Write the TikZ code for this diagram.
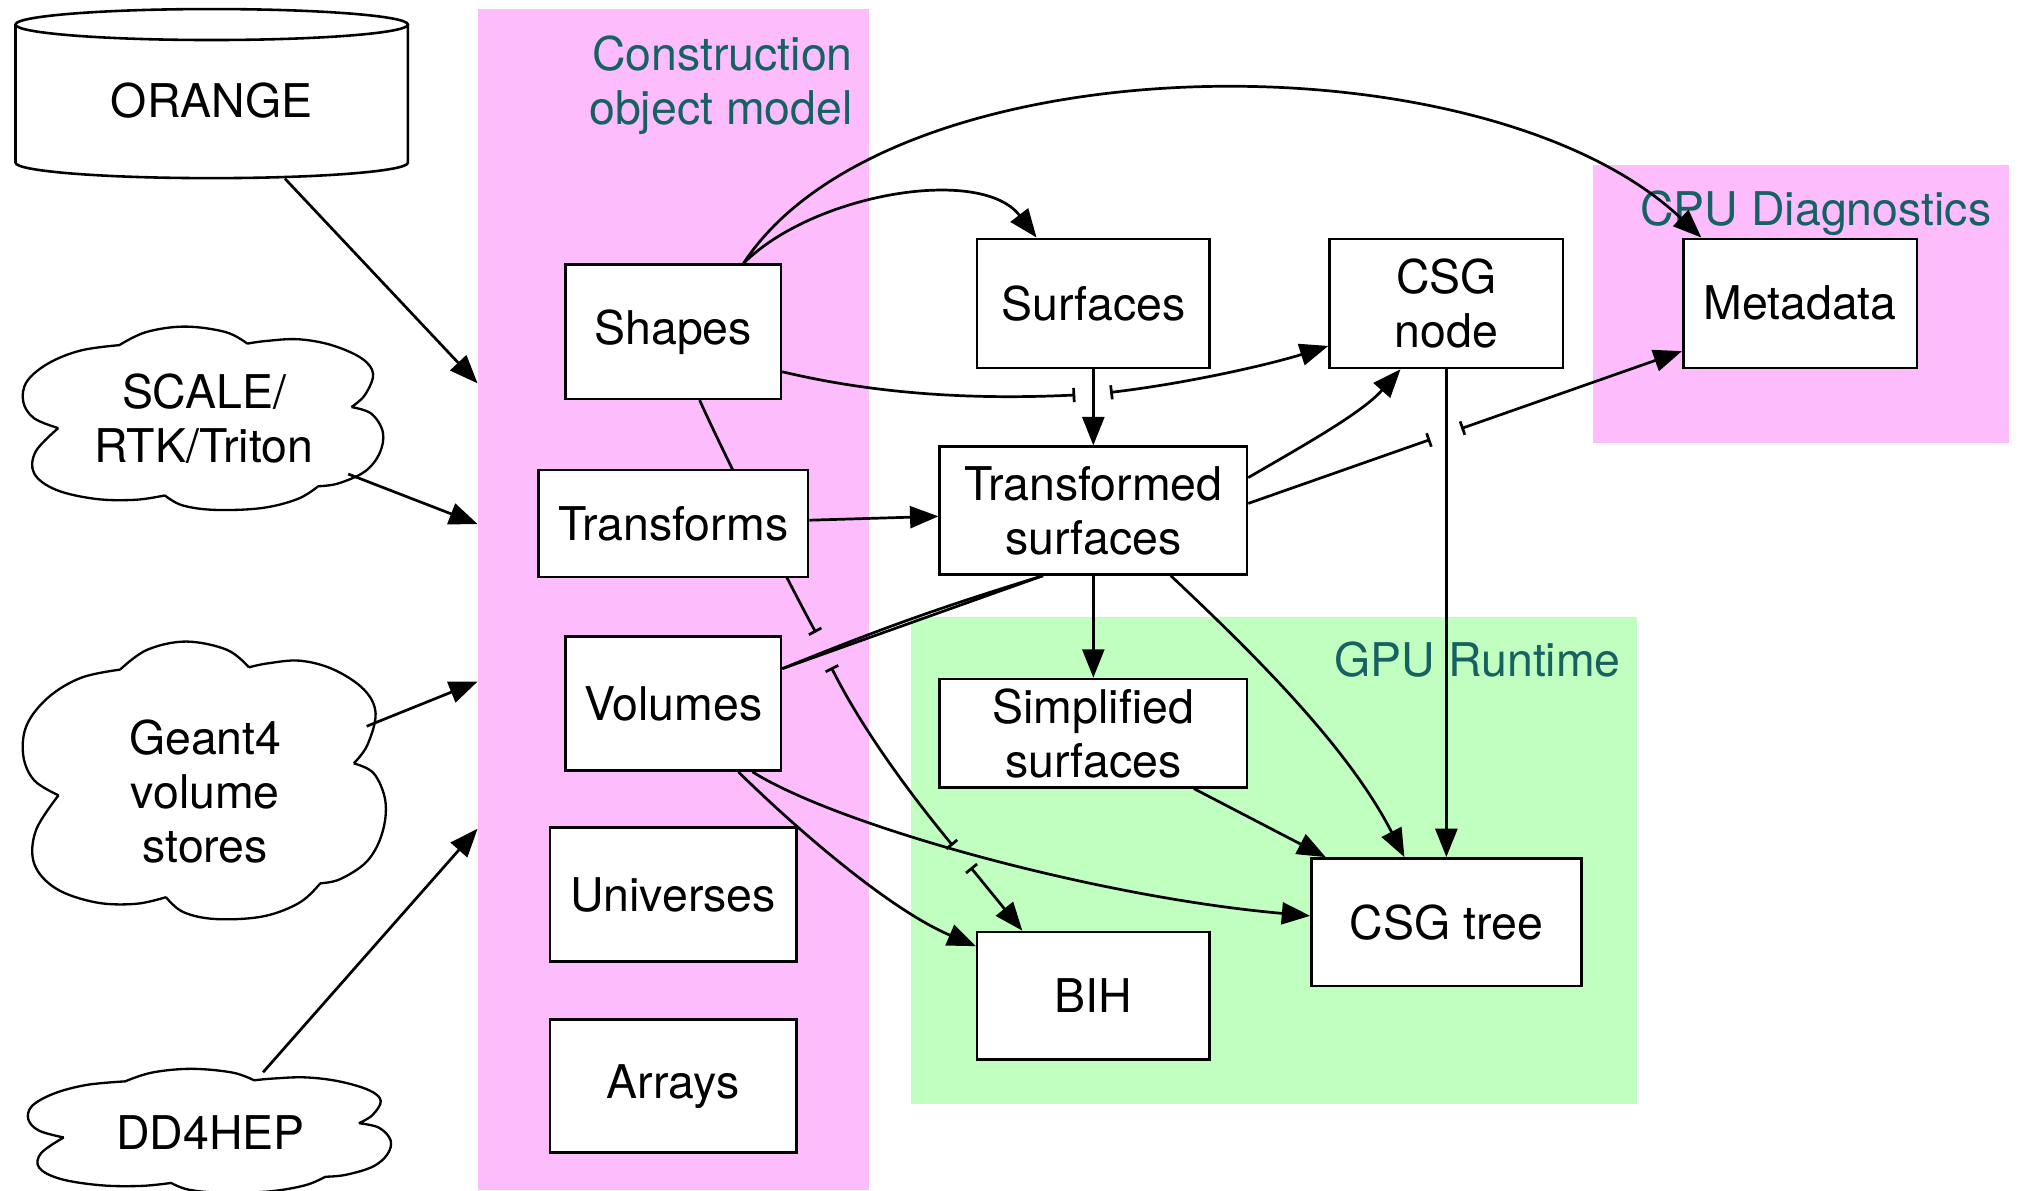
\documentclass[tikz,border=0pt]{standalone}
\usepackage{fontspec}
\setmainfont{TeX Gyre Heros}
\usetikzlibrary{arrows.meta,calc,shapes.geometric}

\definecolor{compink}{RGB}{253,189,253}
\definecolor{gpugreen}{RGB}{192,255,192}
\definecolor{labelteal}{RGB}{22,98,98}

\newcommand\diagfont{\fontsize{18pt}{21pt}\selectfont}

\pgfdeclarelayer{clusters}
\pgfdeclarelayer{links}
\pgfsetlayers{clusters,links,main}

% Cloud outline inside the box with top-left corner (#1,#2), size #3 x #4
\newcommand\cloudoutline[4]{%
  \begin{scope}[shift={(#1,#2)},x=#3,y=-#4]
    \draw[cloudline]
      plot[smooth,tension=0.6] coordinates {(0.267,0.10) (0.34,0.03) (0.447,0.0) (0.56,0.03) (0.62,0.093)}
      plot[smooth,tension=0.6] coordinates {(0.62,0.093) (0.67,0.079) (0.76,0.069) (0.853,0.101) (0.936,0.173) (0.968,0.259) (0.945,0.374) (0.908,0.439)}
      plot[smooth,tension=0.6] coordinates {(0.908,0.439) (0.963,0.475) (0.995,0.576) (0.986,0.691) (0.945,0.791) (0.871,0.856) (0.816,0.871)}
      plot[smooth,tension=0.6] coordinates {(0.816,0.871) (0.76,0.94) (0.66,0.99) (0.53,1.0) (0.44,0.975) (0.392,0.921)}
      plot[smooth,tension=0.6] coordinates {(0.392,0.921) (0.31,0.945) (0.2,0.94) (0.09,0.89) (0.03,0.8) (0.035,0.68) (0.097,0.554)}
      plot[smooth,tension=0.6] coordinates {(0.097,0.554) (0.03,0.50) (0.0,0.41) (0.01,0.3) (0.07,0.2) (0.16,0.13) (0.267,0.101)};
  \end{scope}}

\tikzset{
  box/.style={draw, line width=1pt, fill=white, align=center, inner sep=0pt, font=\diagfont},
  cloudnode/.style={ellipse, draw=none, align=center, inner sep=0pt, font=\diagfont},
  cloudline/.style={line width=0.9pt, line join=round},
  link/.style={line width=1.05pt},
  arr/.style={link, -{Triangle[length=11pt,width=8.5pt]}},
  hopend/.style={link, -{Bar[width=5.5pt]}},
  hopboth/.style={link, {Bar[width=5.5pt]}-{Bar[width=5.5pt]}},
  hoparr/.style={link, {Bar[width=5.5pt]}-{Triangle[length=11pt,width=8.5pt]}},
  clusterlabel/.style={text=labelteal, font=\diagfont, inner sep=0pt, align=right}
}

\begin{document}
\begin{tikzpicture}[x=0.5pt,y=-0.5pt]
\useasboundingbox (0,0) rectangle (1568,922);

% ---------- cluster backgrounds ----------
\begin{pgfonlayer}{clusters}
  \fill[white] (0,0) rectangle (1568,922);
  \fill[compink] (370,7) rectangle (673,922);
  \fill[compink] (1234,128) rectangle (1556,343);
  \fill[gpugreen] (706,478) rectangle (1268,855);
  \node[clusterlabel, anchor=north east] (comlabel) at (661,27) {Construction\\object model};
  \node[clusterlabel, anchor=base east] (cpulabel) at (1543,175) {CPU Diagnostics};
  \node[clusterlabel, anchor=base east] (gpulabel) at (1256,524) {GPU Runtime};
\end{pgfonlayer}

% ---------- inputs ----------
% ORANGE database cylinder
\fill[white] (12,19) -- (12,126) arc[start angle=180,end angle=360,x radius=76pt,y radius=6pt]
  -- (316,19) arc[start angle=0,end angle=180,x radius=76pt,y radius=6pt] -- cycle;
\draw[line width=1pt] (12,19) -- (12,126) arc[start angle=180,end angle=360,x radius=76pt,y radius=6pt] -- (316,19);
\draw[line width=1pt] (164,19) ellipse[x radius=76pt,y radius=6pt];
\node[draw=none, inner sep=0pt, font=\diagfont, minimum width=152pt, minimum height=60pt] (orange) at (164,78) {ORANGE};

% clouds
\cloudoutline{18}{253}{140pt}{71pt}
\node[cloudnode, minimum width=140pt, minimum height=71pt] (scale) at (158,324) {SCALE/\\RTK/Triton};
\cloudoutline{18}{497}{141pt}{107.5pt}
\node[cloudnode, minimum width=141pt, minimum height=107.5pt] (geant) at (159,613) {Geant4\\volume\\stores};
\cloudoutline{22}{828}{141pt}{48pt}
\node[cloudnode, minimum width=141pt, minimum height=48pt] (dd4hep) at (163,877) {DD4HEP};

% entry points on the construction cluster
\coordinate (in1) at (370,297);
\coordinate (in2) at (370,406);
\coordinate (in3) at (370,528);
\coordinate (in4) at (370,642);

% ---------- construction object model ----------
\node[box, minimum width=83.5pt, minimum height=52pt] (shapes) at (521.5,257) {Shapes};
\node[box, minimum width=104.5pt, minimum height=41.5pt] (transforms) at (521.5,405.5) {Transforms};
\node[box, minimum width=83.5pt, minimum height=52pt] (volumes) at (521.5,545) {Volumes};
\node[box, minimum width=95.5pt, minimum height=52pt] (universes) at (521.5,693) {Universes};
\node[box, minimum width=95.5pt, minimum height=51.5pt] (arrays) at (521.5,841.5) {Arrays};

% ---------- derived objects ----------
\node[box, minimum width=90pt, minimum height=50pt] (surfaces) at (847,235) {Surfaces};
\node[box, minimum width=90.5pt, minimum height=50pt] (csgnode) at (1120.5,235) {CSG\\node};
\node[box, minimum width=90.5pt, minimum height=50pt] (metadata) at (1394.5,235) {Metadata};
\node[box, minimum width=119pt, minimum height=49.5pt] (ts) at (847,395.5) {Transformed\\surfaces};
\node[box, minimum width=119pt, minimum height=42pt] (simplified) at (847,568) {Simplified\\surfaces};
\node[box, minimum width=104.5pt, minimum height=49.5pt] (csgtree) at (1120.5,714.5) {CSG tree};
\node[box, minimum width=90pt, minimum height=49.5pt] (bih) at (847,771.5) {BIH};

% line-hop gap ends
\coordinate (h1a) at (833,306);
\coordinate (h1b) at (860,304);
\coordinate (h2a) at (1108,340.5);
\coordinate (h2b) at (1132,332);
\coordinate (h3a) at (632,490);
\coordinate (h3b) at (644,517);
\coordinate (h4a) at (738,655);
\coordinate (h4b) at (752,672);

% ---------- connectors ----------
\begin{pgfonlayer}{links}
  \draw[arr] (orange) -- (in1);
  \draw[arr] (scale) -- (in2);
  \draw[arr] (geant) -- (in3);
  \draw[arr] (dd4hep) -- (in4);

  % from shapes
  \draw[arr] ($(shapes.north)+(54.5,0)$) .. controls (690,30) and (1150,25) .. ($(metadata.north)+(-76.5,0)$);
  \draw[arr] ($(shapes.north)+(54.5,0)$) .. controls (630,150) and (760,128) .. ($(surfaces.north)+(-44,0)$);
  \draw[hopend] ($(shapes.east)+(0,31)$) .. controls (690,308) and (770,309) .. (h1a);
  \draw[hoparr] (h1b) .. controls (920,297) and (985,282) .. ($(csgnode.west)+(0,33)$);
  \draw[hopend] ($(shapes.south)+(20.5,0)$) .. controls (560,350) and (605,440) .. (h3a);
  \draw[hopboth] (h3b) .. controls (668,565) and (705,615) .. (h4a);
  \draw[hoparr] (h4b) -- ($(bih.north)+(-55,0)$);

  % surfaces and transforms
  \draw[arr] (surfaces) -- (ts);
  \draw[arr] ($(transforms.east)+(0,-2.5)$) -- ($(ts.west)+(0,4.5)$);

  % from transformed surfaces
  \draw[arr] ($(ts.east)+(0,-25.5)$) .. controls (1010,345) and (1055,320) .. ($(csgnode.south)+(-35.5,0)$);
  \draw[hopend] ($(ts.east)+(0,-5.5)$) -- (h2a);
  \draw[hoparr] (h2b) -- ($(metadata.west)+(0,37)$);
  \draw[arr] (ts) -- (simplified);
  \draw[arr] ($(ts.south)+(60,0)$) .. controls (975,510) and (1045,580) .. ($(csgtree.north)+(-32.5,0)$);
  \draw[link] ($(volumes.east)+(0,-27)$) -- ($(ts.south)+(-39,0)$);
  \draw[link] ($(volumes.east)+(0,-27)$) to[bend left=2.5] ($(ts.south)+(-39,0)$);

  % into the CSG tree
  \draw[arr] (csgnode) -- (csgtree);
  \draw[arr] ($(simplified.south)+(78,0)$) -- ($(csgtree.north)+(-93.5,0)$);

  % from volumes
  \draw[arr] ($(volumes.south)+(50.5,0)$) .. controls (620,645) and (690,705) .. ($(bih.west)+(0,-38.5)$);
  \draw[arr] ($(volumes.south)+(61.5,0)$) .. controls (650,640) and (850,695) .. ($(csgtree.west)+(0,-5)$);
\end{pgfonlayer}
\end{tikzpicture}
\end{document}
